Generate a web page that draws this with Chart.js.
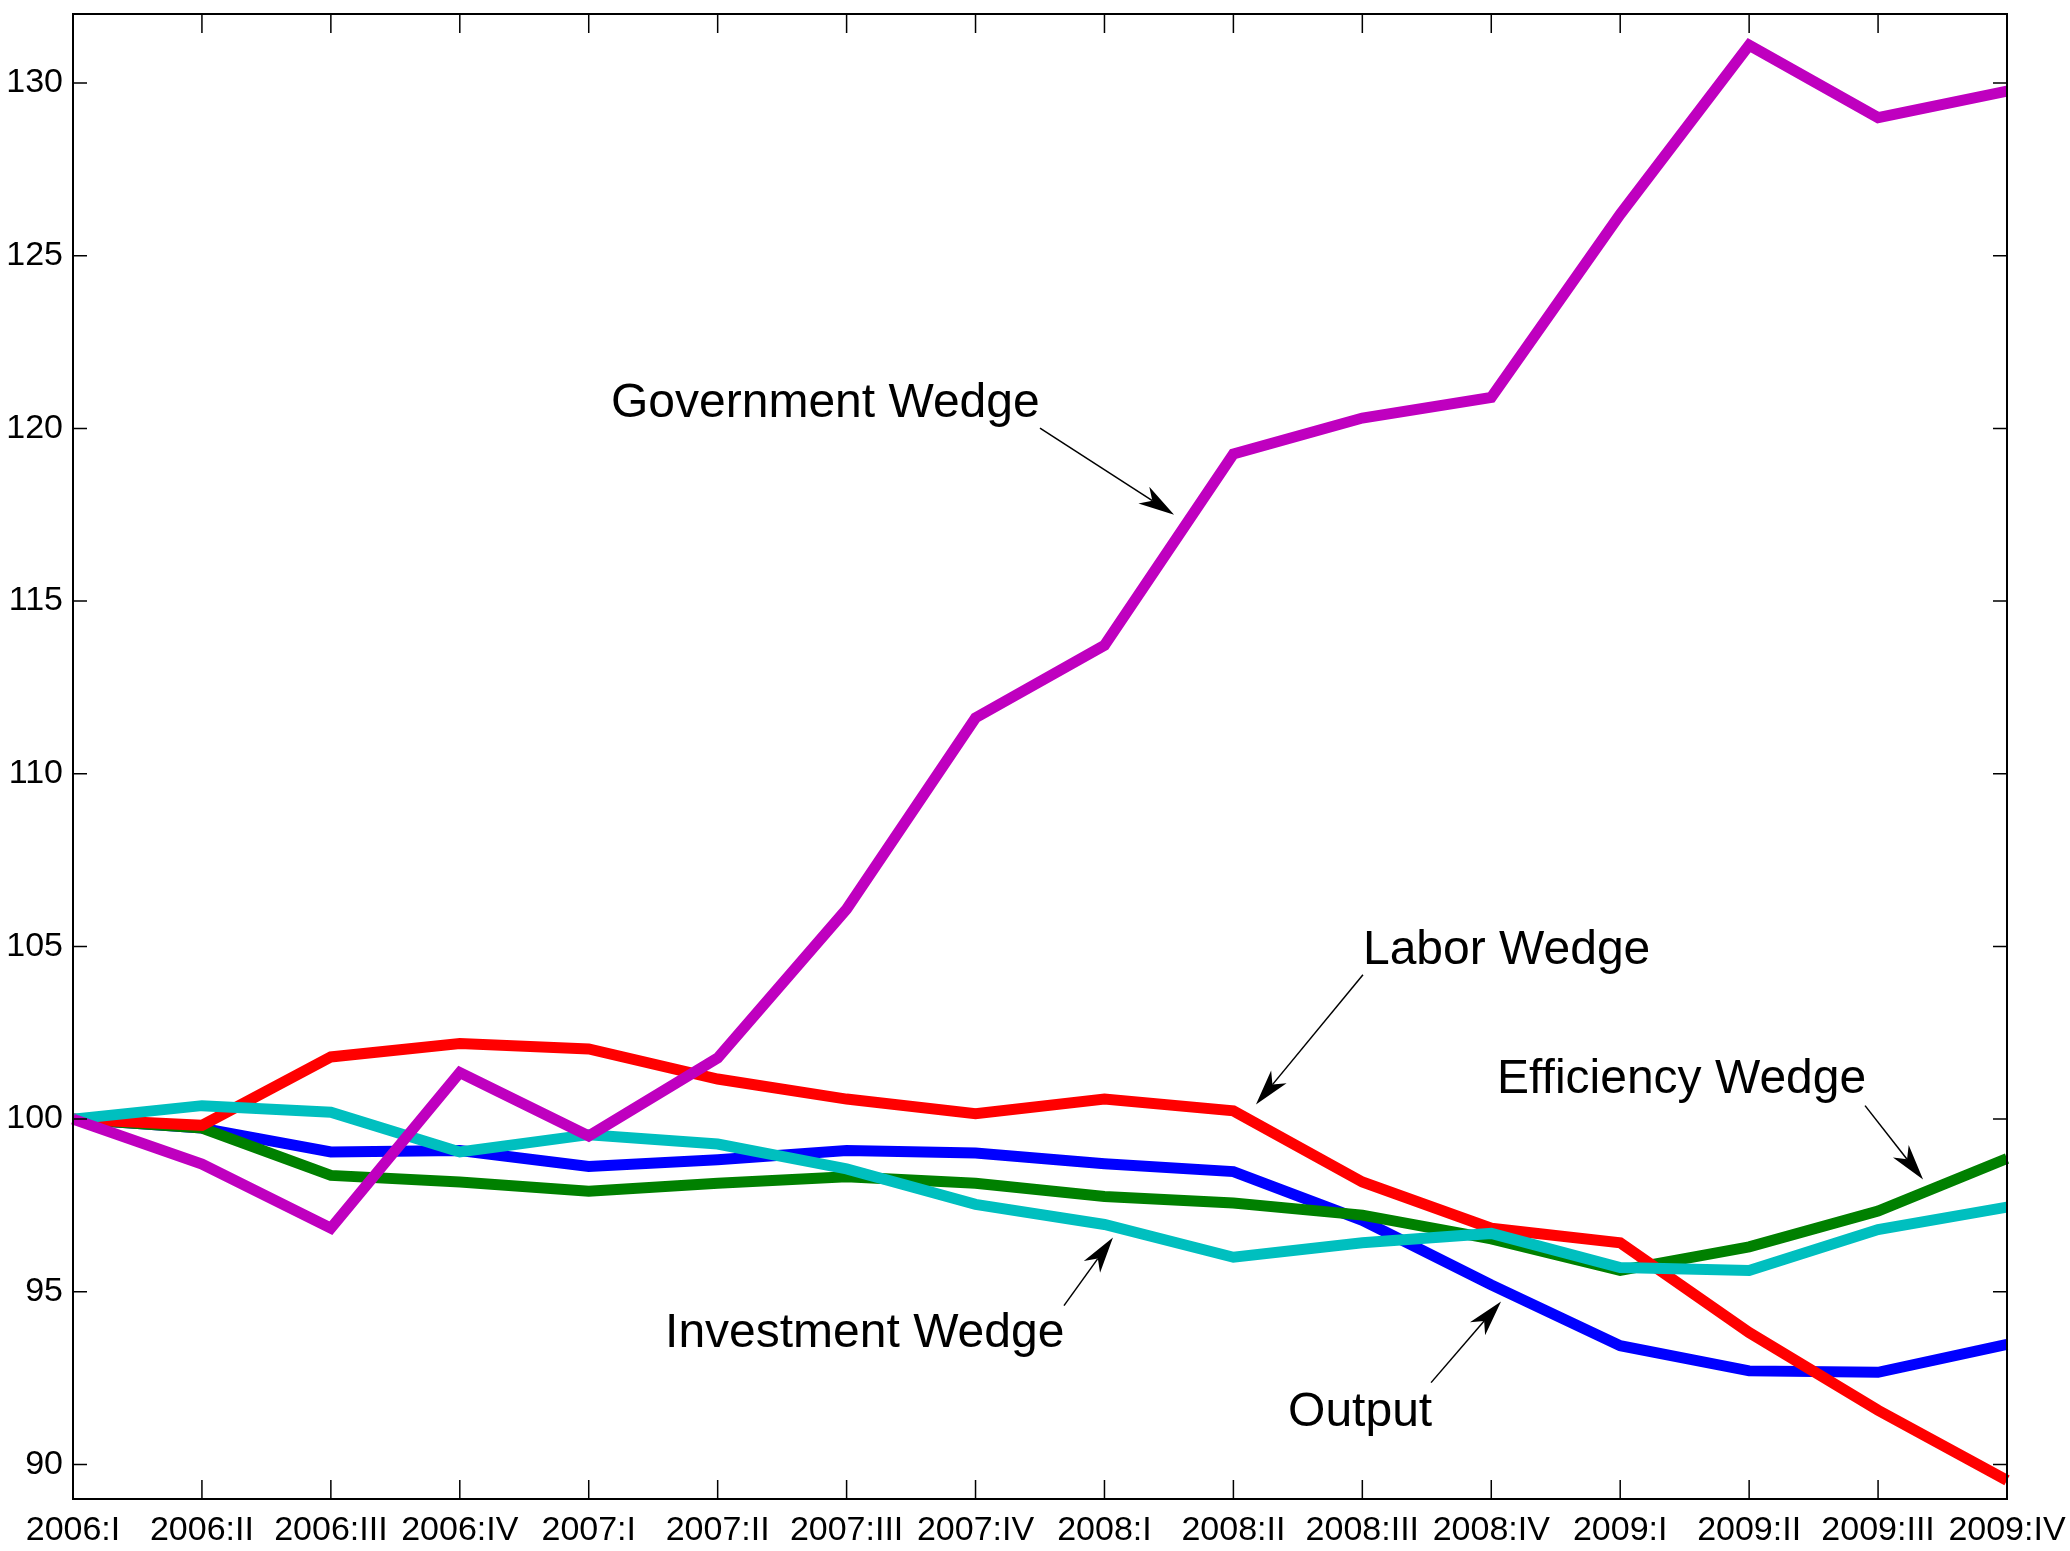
<!DOCTYPE html>
<html lang="en">
  <head>
    <meta charset="UTF-8" />
    <script src="https://cdn.jsdelivr.net/npm/chart.js@4.4.1/dist/chart.umd.min.js"></script>
    <title>Wedges</title>
    <style>
      body { margin: 0; background: #fff; }
    </style>
  </head>
  <body>
    <canvas id="myChart" width="2070" height="1551"></canvas>
    <script>
      const quarters = [
        "2006:I", "2006:II", "2006:III", "2006:IV",
        "2007:I", "2007:II", "2007:III", "2007:IV",
        "2008:I", "2008:II", "2008:III", "2008:IV",
        "2009:I", "2009:II", "2009:III", "2009:IV"
      ];
      const output = [100, 99.74, 99.05, 99.09, 98.63, 98.82, 99.09, 99.02, 98.71, 98.48, 97.07, 95.2, 93.44, 92.71, 92.67, 93.48];
      const efficiency = [100, 99.74, 98.37, 98.18, 97.91, 98.14, 98.33, 98.14, 97.76, 97.57, 97.22, 96.53, 95.62, 96.3, 97.34, 98.86];
      const labor = [100, 99.82, 101.8, 102.19, 102.03, 101.16, 100.58, 100.16, 100.58, 100.24, 98.18, 96.84, 96.42, 93.82, 91.57, 89.54];
      const investment = [100, 100.39, 100.2, 99.05, 99.55, 99.28, 98.56, 97.53, 96.95, 96.0, 96.42, 96.69, 95.7, 95.62, 96.8, 97.45];
      const government = [100, 98.7, 96.84, 101.35, 99.51, 101.77, 106.08, 111.62, 113.72, 119.26, 120.3, 120.9, 126.2, 131.1, 129.0, 129.77];
      const yTicks = [90, 95, 100, 105, 110, 115, 120, 125, 130];

      // text labels with arrows, in data coordinates: [text, textX, textY, fromX, fromY, tipX, tipY]
      const notes = [
        ["Government Wedge", 4.173, 120.33, 7.5, 120.01, 8.54, 117.5],
        ["Labor Wedge", 10.005, 104.5, 10.005, 104.18, 9.175, 100.42],
        ["Efficiency Wedge", 11.045, 100.77, 13.899, 100.39, 14.349, 98.25],
        ["Investment Wedge", 4.592, 93.39, 7.686, 94.6, 8.066, 96.57],
        ["Output", 9.424, 91.1, 10.533, 92.37, 11.076, 94.72]
      ];

      const tickFont = { family: "'Liberation Sans', Arial, sans-serif", size: 34 };

      const framePlugin = {
        id: "frame",
        afterDatasetsDraw(chart) {
          const ctx = chart.ctx;
          const a = chart.chartArea;
          const xs = chart.scales.x, ys = chart.scales.y;
          ctx.save();
          ctx.strokeStyle = "#000";
          ctx.lineWidth = 1.5;
          ctx.beginPath();
          quarters.forEach((q, i) => {
            const px = xs.getPixelForValue(i);
            ctx.moveTo(px, a.bottom); ctx.lineTo(px, a.bottom - 19);
            ctx.moveTo(px, a.top); ctx.lineTo(px, a.top + 19);
          });
          yTicks.forEach((v) => {
            const py = ys.getPixelForValue(v);
            ctx.moveTo(a.left, py); ctx.lineTo(a.left + 14, py);
            ctx.moveTo(a.right, py); ctx.lineTo(a.right - 14, py);
          });
          ctx.stroke();
          ctx.lineWidth = 2;
          ctx.strokeRect(a.left, a.top, a.right - a.left, a.bottom - a.top);

          // annotations
          ctx.fillStyle = "#000";
          ctx.font = "48px 'Liberation Sans', Arial, sans-serif";
          ctx.textAlign = "left";
          ctx.textBaseline = "alphabetic";
          notes.forEach((n) => {
            ctx.fillText(n[0], xs.getPixelForValue(n[1]), ys.getPixelForValue(n[2]));
            const x0 = xs.getPixelForValue(n[3]), y0 = ys.getPixelForValue(n[4]);
            const x1 = xs.getPixelForValue(n[5]), y1 = ys.getPixelForValue(n[6]);
            const len = Math.hypot(x1 - x0, y1 - y0);
            const dx = (x1 - x0) / len, dy = (y1 - y0) / len;
            const L = 36, W = 10;
            const bx = x1 - dx * L, by = y1 - dy * L;
            const ix = x1 - dx * L * 0.72, iy = y1 - dy * L * 0.72;
            ctx.lineWidth = 1.5;
            ctx.beginPath();
            ctx.moveTo(x0, y0);
            ctx.lineTo(ix, iy);
            ctx.stroke();
            ctx.beginPath();
            ctx.moveTo(x1, y1);
            ctx.lineTo(bx - dy * W, by + dx * W);
            ctx.lineTo(ix, iy);
            ctx.lineTo(bx + dy * W, by - dx * W);
            ctx.closePath();
            ctx.fill();
          });
          ctx.restore();
        }
      };

      function line(data, color, order) {
        return {
          data: data,
          borderColor: color,
          borderWidth: 11,
          pointRadius: 0,
          tension: 0,
          fill: false,
          order: order,
          borderJoinStyle: "miter"
        };
      }

      const ctx = document.getElementById("myChart").getContext("2d");
      const myChart = new Chart(ctx, {
        type: "line",
        data: {
          labels: quarters,
          datasets: [
            line(government, "#bf00bf", 0),
            line(investment, "#00bfbf", 1),
            line(labor, "#ff0000", 2),
            line(efficiency, "#008000", 3),
            line(output, "#0000ff", 4)
          ]
        },
        options: {
          responsive: false,
          animation: false,
          devicePixelRatio: 1,
          layout: { padding: { top: 14, right: 63, left: 0, bottom: 0 } },
          plugins: { legend: { display: false }, tooltip: { enabled: false } },
          scales: {
            x: {
              type: "category",
              offset: false,
              grid: { display: false, drawTicks: false },
              border: { display: false },
              ticks: { font: tickFont, color: "#000", padding: 11, maxRotation: 0, autoSkip: false },
              afterFit(scale) {
                scale.height = 52;
                scale.paddingLeft = 0; scale.paddingRight = 0;
              }
            },
            y: {
              min: 89,
              max: 132,
              grid: { display: false, drawTicks: false },
              border: { display: false },
              ticks: { font: tickFont, color: "#000", padding: 10 },
              afterBuildTicks(scale) {
                scale.ticks = yTicks.map((v) => ({ value: v }));
              },
              afterFit(scale) {
                scale.width = 73;
                scale.paddingTop = 0; scale.paddingBottom = 0;
              }
            }
          }
        },
        plugins: [framePlugin]
      });
    </script>
  </body>
</html>
